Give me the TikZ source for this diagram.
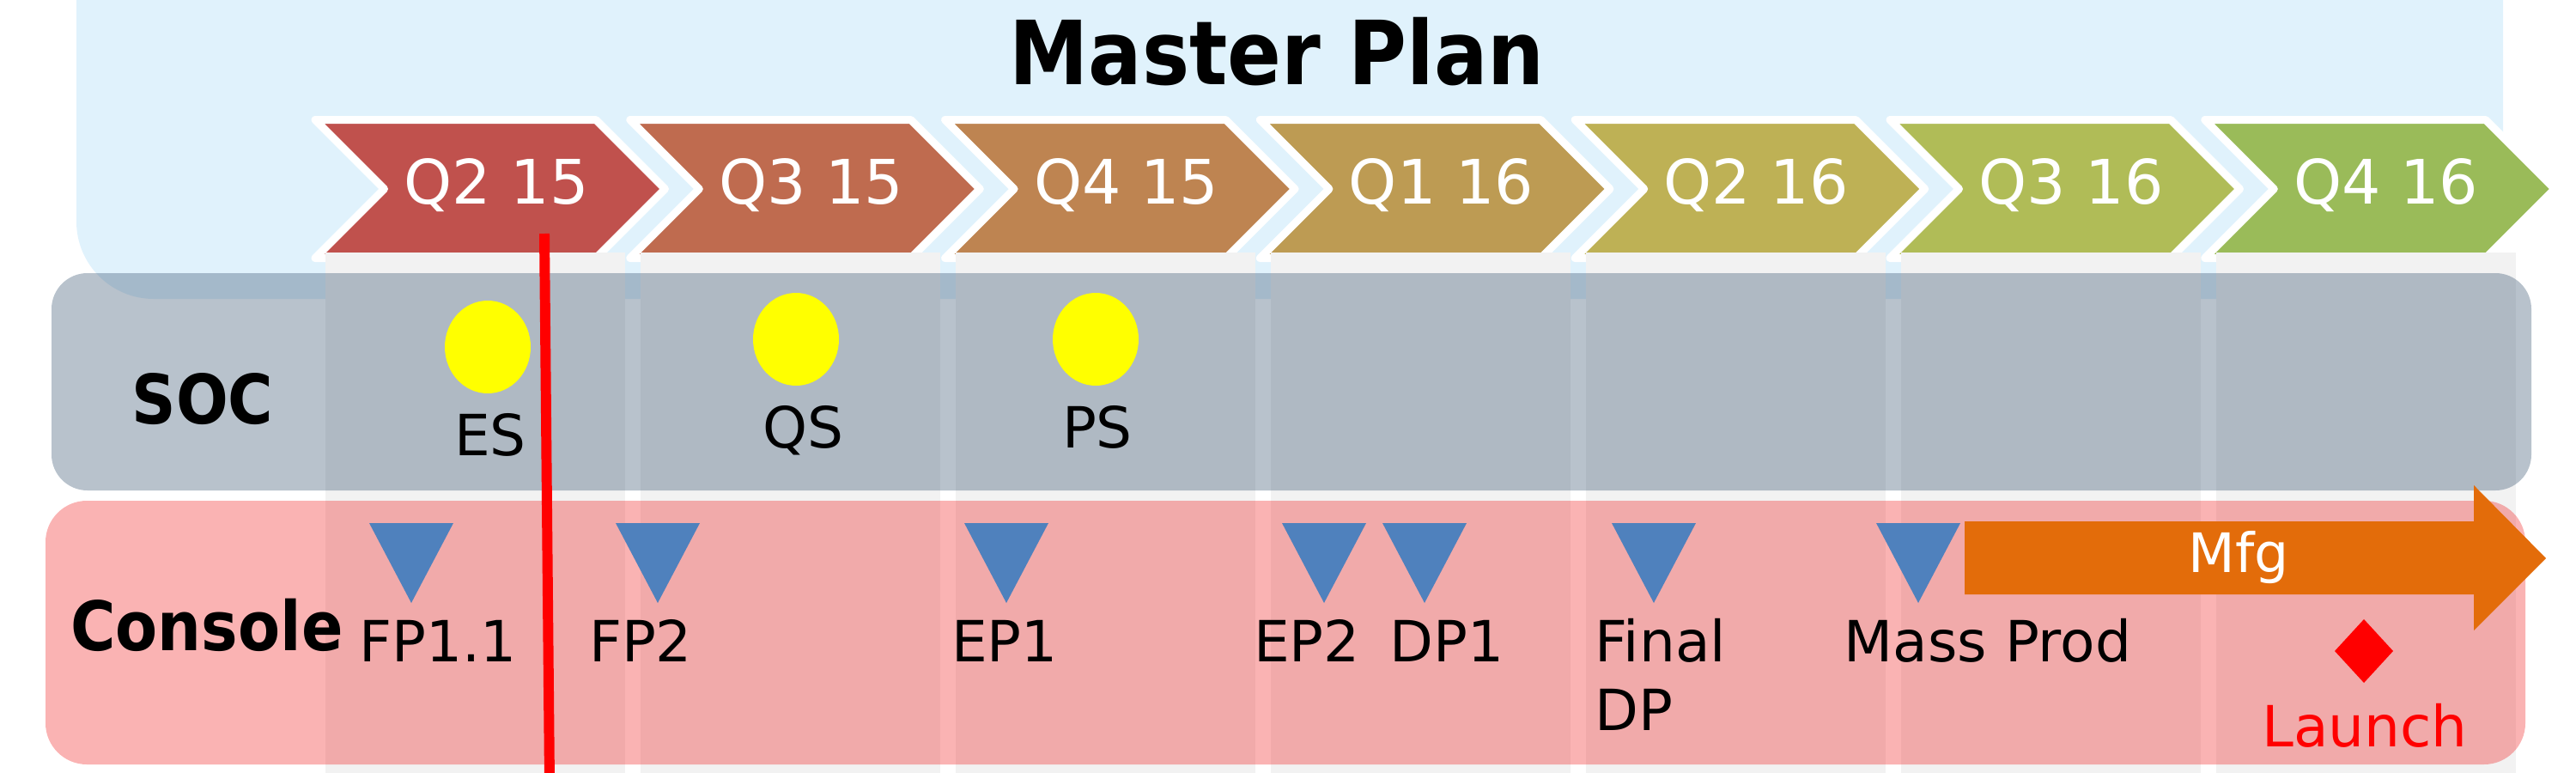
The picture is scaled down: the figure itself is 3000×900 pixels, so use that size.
\documentclass[tikz,border=0pt]{standalone}
\usepackage{fontspec}
\setmainfont{DejaVu Sans}
\newfontfamily\boldsans[FakeStretch=0.9]{DejaVu Sans}
\definecolor{planblue}{RGB}{224,242,252}
\definecolor{colgray}{RGB}{242,242,242}
\definecolor{socfill}{RGB}{70,96,122}
\definecolor{confill}{RGB}{240,10,10}
\definecolor{chev0}{RGB}{192,81,77}
\definecolor{chev1}{RGB}{191,107,79}
\definecolor{chev2}{RGB}{190,132,81}
\definecolor{chev3}{RGB}{189,155,83}
\definecolor{chev4}{RGB}{190,177,85}
\definecolor{chev5}{RGB}{176,188,87}
\definecolor{chev6}{RGB}{154,187,89}
\definecolor{mstone}{RGB}{79,129,189}
\definecolor{mfgorange}{RGB}{227,108,10}
\definecolor{sample}{RGB}{255,255,0}
\tikzset{
  titletext/.style={font=\boldsans\bfseries\fontsize{29.3}{35}\selectfont, anchor=base, inner sep=0pt},
  chevtext/.style={text=white, font=\fontsize{20.3}{24}\selectfont, anchor=base, inner sep=0pt},
  lanetext/.style={font=\boldsans\bfseries\fontsize{22.6}{27}\selectfont, anchor=base, inner sep=0pt},
  lbl/.style={font=\fontsize{18.8}{22}\selectfont, anchor=base, inner sep=0pt},
  chevshape/.style={draw=white, line width=2.56pt, line join=round},
  colband/.style={fill=colgray},
  lanebox/.style={fill opacity=#1},
  tri/.style={fill=mstone},
  samp/.style={fill=sample},
  redline/.style={draw=red, line width=3.4pt},
}
\begin{document}
\begin{tikzpicture}[x=0.01cm, y=-0.01cm]
\useasboundingbox (0,0) rectangle (3000,900);
\clip (0,0) rectangle (3000,900);
% master plan background
\fill[planblue, rounded corners=25.6pt] (89,-200) rectangle (2915,348);
\node[titletext] (title) at (1487,98) {Master Plan};
% chevrons
\foreach \i/\t in {0/Q2 15,1/Q3 15,2/Q4 15,3/Q1 16,4/Q2 16,5/Q3 16,6/Q4 16}{
  \pgfmathsetmacro{\xL}{367+366.8*\i}
  \filldraw[chevshape, fill=chev\i] (\xL,139.5) -- ++(327,0) -- ++(80.5,80.5) -- ++(-80.5,80.5) -- ++(-327,0) -- ++(80.5,-80.5) -- cycle;
  \node[chevtext] (q\i) at (\xL+211,237) {\t};
}
% column bands
\foreach \i in {0,...,6}{
  \fill[colband] (379+367*\i,294) rectangle ++(349,620);
}
% lanes
\fill[socfill, fill opacity=0.385, rounded corners=11.9pt] (60,318) rectangle (2948,571);
\fill[confill, fill opacity=0.31, rounded corners=13.7pt] (53,583) rectangle (2941,890);
\node[lanetext] (soc) at (236,493) {SOC};
\node[lanetext] (console) at (241,757) {Console};
% SOC samples
\fill[samp] (568,404) ellipse [x radius=50, y radius=54];
\fill[samp] (927,395) ellipse [x radius=50, y radius=54];
\fill[samp] (1276,395) ellipse [x radius=50, y radius=54];
\node[lbl] (es) at (571,530) {ES};
\node[lbl] (qs) at (935,521) {QS};
\node[lbl] (ps) at (1278,521) {PS};
% console milestones
\foreach \c in {479,766,1172,1542,1659,1926,2234}{
  \fill[tri] (\c-49,609) -- (\c+49,609) -- (\c,702) -- cycle;
}
\node[lbl, anchor=base west] (fp11) at (418,770) {FP1.1};
\node[lbl] (fp2) at (746,770) {FP2};
\node[lbl] (ep1) at (1170,770) {EP1};
\node[lbl] (ep2) at (1522,770) {EP2};
\node[lbl] (dp1) at (1685,770) {DP1};
\node[lbl, anchor=base west] (final) at (1857,770) {Final};
\node[lbl, anchor=base west] (finaldp) at (1857,850) {DP};
\node[lbl, anchor=base west] (mass) at (2147,770) {Mass Prod};
% Mfg arrow
\fill[mfgorange] (2288,607) -- (2881,607) -- (2881,565) -- (2965,650) -- (2881,734) -- (2881,692) -- (2288,692) -- cycle;
\node[lbl, text=white, font=\fontsize{18}{22}\selectfont] (mfg) at (2607,666) {Mfg};
% launch
\fill[red] (2753,721) -- (2787,758) -- (2753,795) -- (2719,758) -- cycle;
\node[lbl, text=red] (launch) at (2754,869) {Launch};
% today line
\coordinate (rtop) at (634,272);
\coordinate (rbot) at (640,910);
\draw[redline] (rtop) -- (rbot);
\end{tikzpicture}
\end{document}
